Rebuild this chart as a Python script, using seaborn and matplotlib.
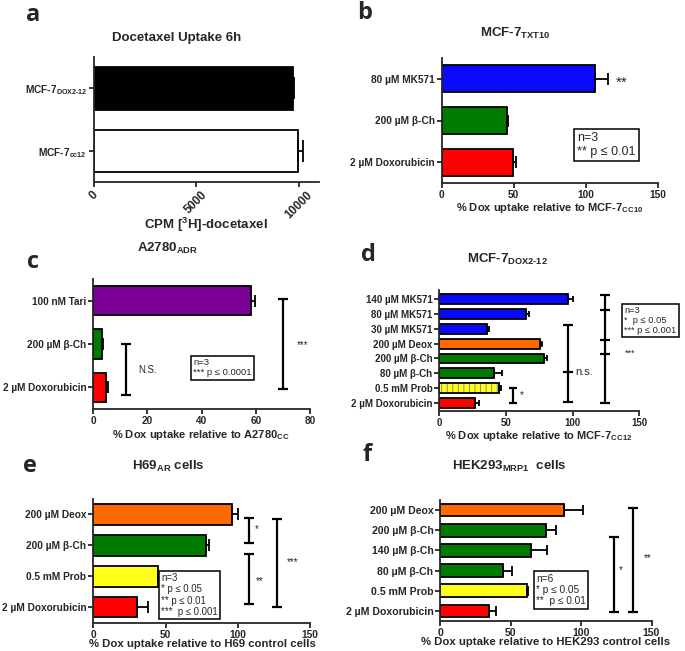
import numpy as np
import pandas as pd
import matplotlib
matplotlib.use('Agg')
import matplotlib.pyplot as plt
from matplotlib.patches import Rectangle
import seaborn as sns

# panel a
a_labels = ['MCF-7$_{DOX2\u201012}$', 'MCF-7$_{cc12}$']
a_vals = [9720, 9970]
a_err = [70, 240]
a_colors = ['black', 'white']

# panel b
b_labels = ['80 µM MK571', '200 µM β-Ch', '2 µM Doxorubicin']
b_vals = [106.5, 45.5, 49.7]
b_err = [9.0, 0.5, 1.8]
b_colors = ['#0a0aff', '#007a00', '#ff0000']

# panel c
c_labels = ['100 nM Tari', '200 µM β-Ch', '2 µM Doxorubicin']
c_vals = [58.1, 3.3, 4.7]
c_err = [1.7, 0.4, 0.8]
c_colors = ['#7a0096', '#007a00', '#ff0000']

# panel d
d_labels = ['140 µM MK571', '80 µM MK571', '30 µM MK571', '200 µM Deox',
            '200 µM β-Ch', '80 µM β-Ch', '0.5 mM Prob', '2 µM Doxorubicin']
d_vals = [96.7, 65.0, 36.0, 75.5, 78.7, 41.0, 44.8, 26.8]
d_err = [3.3, 2.3, 1.3, 1.3, 2.3, 5.8, 1.2, 3.2]
d_colors = ['#0a0aff', '#0a0aff', '#0a0aff', '#ff6a00', '#007a00', '#007a00', '#ffff1a', '#ff0000']

# panel e
e_labels = ['200 µM Deox', '200 µM β-Ch', '0.5 mM Prob', '2 µM Doxorubicin']
e_vals = [96.0, 78.0, 44.7, 30.5]
e_err = [3.9, 2.3, 0.0, 7.7]
e_colors = ['#ff6a00', '#007a00', '#ffff1a', '#ff0000']

# panel f
f_labels = ['200 µM Deox', '200 µM β-Ch', '140 µM β-Ch', '80 µM β-Ch', '0.5 mM Prob', '2 µM Doxorubicin']
f_vals = [88.2, 75.2, 64.5, 44.5, 61.5, 34.8]
f_err = [12.8, 6.8, 11.2, 6.3, 0.7, 4.9]
f_colors = ['#ff6a00', '#007a00', '#007a00', '#007a00', '#ffff1a', '#ff0000']

sns.set_style('ticks')
plt.rcParams['font.family'] = ['Liberation Sans', 'DejaVu Sans']
plt.rcParams['mathtext.fontset'] = 'custom'
plt.rcParams['mathtext.rm'] = 'Liberation Sans:bold'
plt.rcParams['mathtext.bf'] = 'Liberation Sans:bold'
plt.rcParams['mathtext.it'] = 'Liberation Sans:bold'
plt.rcParams['mathtext.default'] = 'bf'
plt.rcParams['hatch.linewidth'] = 0.7

W, H = 685, 651
fig = plt.figure(figsize=(W / 100, H / 100), dpi=100)


def px_axes(l, t, r, b):
    return fig.add_axes([l / W, 1 - b / H, (r - l) / W, (b - t) / H])


def ftext(x, y, s, **kw):
    fig.text(x / W, 1 - y / H, s, ha='center', va='center', **kw)


def bars(ax, labels, vals, err, colors, fs, cap, width=0.66):
    df = pd.DataFrame({'label': labels, 'value': vals})
    sns.barplot(data=df, x='value', y='label', hue='label', palette=colors, legend=False,
                orient='h', width=width, saturation=1, edgecolor='black', linewidth=1.3,
                errorbar=None, ax=ax)
    n = len(vals)
    ax.errorbar(vals, np.arange(n), xerr=[np.zeros(n), err], fmt='none', ecolor='black',
                elinewidth=1.3, capsize=cap, capthick=1.3, zorder=5)
    ax.set_xlabel('')
    ax.set_ylabel('')
    ax.set_ylim(n - 0.5, -0.5)
    sns.despine(ax=ax)
    for s in ['left', 'bottom']:
        ax.spines[s].set_linewidth(1.3)
    ax.tick_params(axis='both', width=1.3, length=3.5, labelsize=fs, pad=1.5)
    for lab in ax.get_yticklabels() + ax.get_xticklabels():
        lab.set_fontweight('bold')


def bracket(ax, x, y0, y1, cap=3.5, ticks=()):
    ax.errorbar([x], [(y0 + y1) / 2], yerr=[(y1 - y0) / 2], fmt='none', ecolor='black',
                elinewidth=1.6, capsize=cap, capthick=1.6, clip_on=False)
    for t in ticks:
        ax.plot([x], [t], marker='_', ms=cap * 2, mew=1.6, color='black', clip_on=False)


def box(ax, x, y, s, fs):
    ax.text(x, y, s, fontsize=fs, ha='left', va='top', linespacing=1.15, clip_on=False,
            bbox=dict(boxstyle='square,pad=0.25', fc='white', ec='black', lw=1.1))


# ---- a
ax = px_axes(94, 57, 319, 182)
bars(ax, a_labels, a_vals, a_err, a_colors, 7.3, 8, width=0.68)
ax.set_xlim(0, 11000)
ax.set_xticks([0, 5000, 10000])
ax.set_xticklabels(['0', '5000', '10000'], rotation=45, ha='center', fontweight='bold', fontsize=8.5)
ftext(177, 38, 'Docetaxel Uptake 6h', fontsize=9.5, fontweight='bold')
ftext(206, 225, 'CPM [$^{3}$H]-docetaxel', fontsize=9.5, fontweight='bold')

# ---- b
ax = px_axes(441.7, 58, 658, 183)
bars(ax, b_labels, b_vals, b_err, b_colors, 7.3, 4.5, width=0.65)
ax.set_xlim(0, 150)
ax.set_xticks([0, 50, 100, 150])
ax.text(125, 0.1, '**', fontsize=11, ha='center', va='center')
box(ax, 94, 1.28, 'n=3\n** p ≤ 0.01', 9)
ftext(515, 33, 'MCF-7$_{TXT10}$', fontsize=9.5, fontweight='bold')
ftext(550, 208, '% Dox uptake relative to MCF-7$_{CC10}$', fontsize=8, fontweight='bold')

# ---- c
ax = px_axes(93.3, 279, 310, 409)
bars(ax, c_labels, c_vals, c_err, c_colors, 7.2, 4.5, width=0.67)
ax.set_xlim(0, 80)
ax.set_xticks([0, 20, 40, 60, 80])
bracket(ax, 12.1, 1.0, 2.17)
ax.text(16.5, 1.59, 'N.S.', fontsize=7, va='center')
bracket(ax, 70, -0.04, 2.03)
ax.text(77.3, 1.02, '***', fontsize=7, ha='center', va='center')
box(ax, 36.8, 1.33, 'n=3\n*** p ≤ 0.0001', 6.8)
ftext(167.5, 248, 'A2780$_{ADR}$', fontsize=9.5, fontweight='bold')
ftext(201, 435, '% Dox uptake relative to A2780$_{CC}$', fontsize=8, fontweight='bold')

# ---- d
ax = px_axes(439.3, 290, 639.4, 411)
bars(ax, d_labels, d_vals, d_err, d_colors, 7, 2.5, width=0.66)
# probenecid bar: thin grey vertical hatch, black outline drawn on top
prob = ax.patches[d_labels.index('0.5 mM Prob')]
prob.set_edgecolor('0.55')
prob.set_hatch('|||')
prob.set_linewidth(0)
ax.add_patch(Rectangle((prob.get_x(), prob.get_y()), prob.get_width(), prob.get_height(),
                       fill=False, ec='black', lw=1.3, zorder=prob.get_zorder() + 0.1))
ax.set_ylim(7.55, -0.62)
ax.set_xlim(0, 150)
ax.set_xticks([0, 50, 100, 150])
bracket(ax, 55.2, 5.99, 7.0, cap=3)
ax.text(60.5, 6.5, '*', fontsize=7, va='center')
bracket(ax, 96.7, 1.74, 6.92, cap=3.5, ticks=[4.89])
ax.text(102, 4.89, 'n.s.', fontsize=8, va='center')
bracket(ax, 124.2, -0.29, 6.99, cap=3.5, ticks=[0.72, 2.75, 3.7])
ax.text(139, 3.62, '***', fontsize=6.5, va='center')
box(ax, 138.5, 0.45, 'n=3\n*  p ≤ 0.05\n*** p ≤ 0.001', 6.7)
ftext(507, 259, 'MCF-7$_{DOX2\u201012}$', fontsize=9.5, fontweight='bold')
ftext(539, 436, '% Dox uptake relative to MCF-7$_{CC12}$', fontsize=8, fontweight='bold')

# ---- e
ax = px_axes(93.3, 499, 310, 622.7)
bars(ax, e_labels, e_vals, e_err, e_colors, 7.3, 4.5, width=0.66)
ax.set_xlim(0, 150)
ax.set_xticks([0, 50, 100, 150])
bracket(ax, 107.6, 0.11, 0.93)
ax.text(111.5, 0.48, '*', fontsize=7, va='center')
bracket(ax, 108, 1.29, 2.91)
ax.text(112.5, 2.17, '**', fontsize=7, va='center')
bracket(ax, 127.4, 0.16, 3.0)
ax.text(134, 1.55, '***', fontsize=7, va='center')
box(ax, 47, 1.9, 'n=3\n* p ≤ 0.05\n** p ≤ 0.01\n***  p ≤ 0.001', 6.9)
ftext(168, 466, 'H69$_{AR}$ cells', fontsize=9.5, fontweight='bold')
ftext(202, 644, '% Dox uptake relative to H69 control cells', fontsize=8.2, fontweight='bold')

# ---- f
ax = px_axes(440.3, 500, 651.5, 621)
bars(ax, f_labels, f_vals, f_err, f_colors, 7.6, 3.5, width=0.63)
ax.set_xlim(0, 150)
ax.set_xticks([0, 50, 100, 150])
bracket(ax, 123.2, 1.31, 5.07)
ax.text(127, 2.97, '*', fontsize=7, va='center')
bracket(ax, 136.9, -0.08, 5.07)
ax.text(144.5, 2.37, '**', fontsize=7, va='center')
box(ax, 68, 3.17, 'n=6\n* p ≤ 0.05\n**  p ≤ 0.01', 7.3)
ftext(509, 466, 'HEK293$_{MRP1}$  cells', fontsize=9.5, fontweight='bold')
ftext(546, 642, '% Dox uptake relative to HEK293 control cells', fontsize=8.2, fontweight='bold')

# panel letters
for x, y, s in [(33, 15, 'a'), (365, 13, 'b'), (33, 262, 'c'), (368, 255, 'd'), (30, 466, 'e'), (367, 455, 'f')]:
    fig.text(x / W, 1 - y / H, s, fontsize=17, fontweight='bold', family='Open Sans',
             ha='center', va='center')

fig.savefig('out.png', dpi=100)
